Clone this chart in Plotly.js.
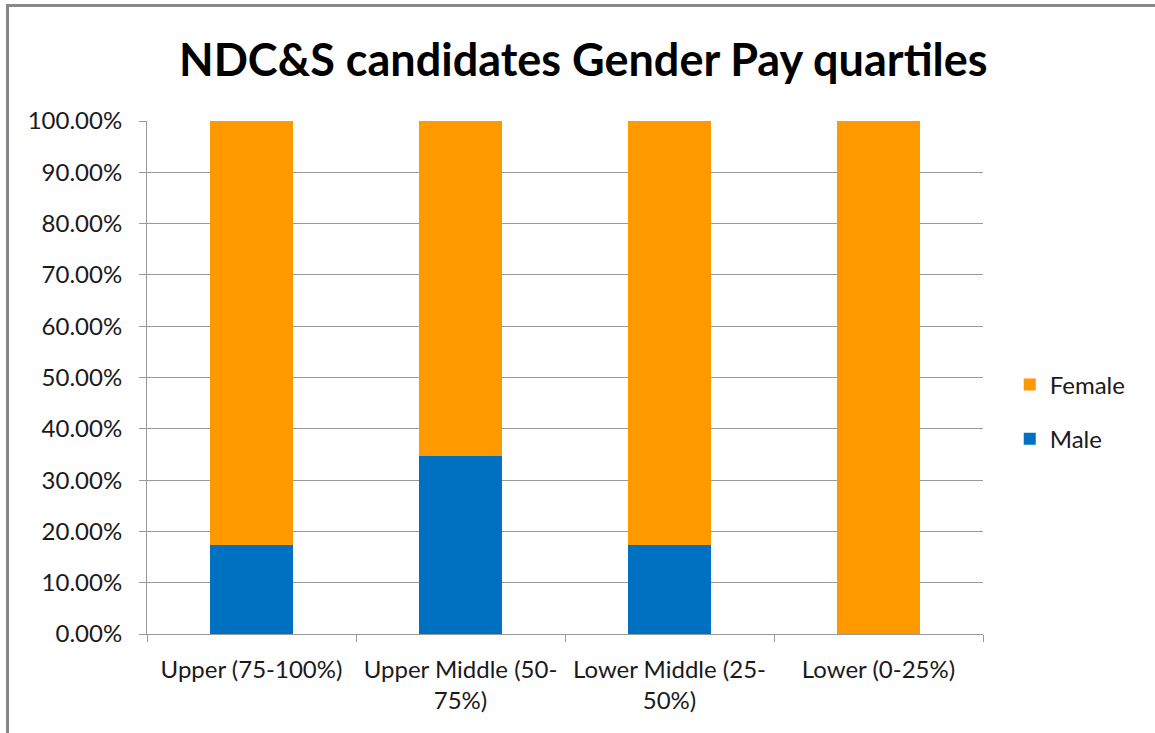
<!DOCTYPE html>
<html>
<head>
<meta charset="utf-8">
<script src="https://cdn.plot.ly/plotly-3.0.1.min.js"></script>
<style>
html,body{margin:0;padding:0;background:#fff;}
#chart{width:1155px;height:733px;position:relative;}
#frame{position:absolute;left:6px;top:4px;width:1300px;height:900px;border-left:3px solid #888;border-top:3px solid #888;pointer-events:none;}
</style>
</head>
<body>
<div style="position:relative;width:1155px;height:733px;overflow:hidden;">
<div id="chart"></div>
<div id="frame"></div>
</div>
<script>
const categories = ["Upper (75-100%)", "Upper Middle (50-<br>75%)", "Lower Middle (25-<br>50%)", "Lower (0-25%)"];
const maleValues = [0.1739, 0.3478, 0.1739, 0.0];
const femaleValues = [0.8261, 0.6522, 0.8261, 1.0];
const yTickValues = [0, 0.1, 0.2, 0.3, 0.4, 0.5, 0.6, 0.7, 0.8, 0.9, 1.0];
const yTickLabels = ["0.00%", "10.00%", "20.00%", "30.00%", "40.00%", "50.00%", "60.00%", "70.00%", "80.00%", "90.00%", "100.00%"];

const font = "Lato, 'Open Sans', sans-serif";
const txt = "#1a1a1a";

const traces = [
  {type: "bar", name: "Male", legendgroup: "m", legendrank: 2, x: categories, y: maleValues, marker: {color: "#0070C0"}},
  {type: "bar", name: "Female", legendgroup: "f", legendrank: 1, x: categories, y: femaleValues, marker: {color: "#FF9900"}}
];

const layout = {
  width: 1155, height: 733,
  margin: {l: 147, r: 172, t: 121, b: 99},
  paper_bgcolor: "#fff", plot_bgcolor: "#fff",
  barmode: "stack",
  bargap: 0.6,
  title: {text: "<b>NDC&S candidates Gender Pay quartiles</b>", font: {family: font, size: 45, color: "#000"}, x: 0.505, xanchor: "center", y: 0.918, yanchor: "middle"},
  showlegend: true,
  legend: {x: 1.032, xanchor: "left", y: 0.433, yanchor: "middle", traceorder: "grouped", tracegroupgap: 20, font: {family: font, size: 24, color: txt}, itemwidth: 30},
  xaxis: {
    type: "category",
    showline: true, linecolor: "#999", linewidth: 1,
    ticks: "outside", tickson: "boundaries", ticklen: 7, tickcolor: "#999",
    ticklabelstandoff: 14,
    tickfont: {family: font, size: 24, color: txt},
    showgrid: false, fixedrange: true, tickangle: 0
  },
  yaxis: {
    range: [0, 1],
    tickvals: yTickValues, ticktext: yTickLabels,
    showline: true, linecolor: "#999", linewidth: 1,
    ticks: "outside", ticklen: 7, tickcolor: "#999",
    ticklabelstandoff: 12,
    gridcolor: "#999", gridwidth: 1,
    zeroline: false,
    tickfont: {family: font, size: 24, color: txt},
    fixedrange: true
  }
};

Plotly.newPlot("chart", traces, layout, {staticPlot: true, displayModeBar: false});
</script>
</body>
</html>
